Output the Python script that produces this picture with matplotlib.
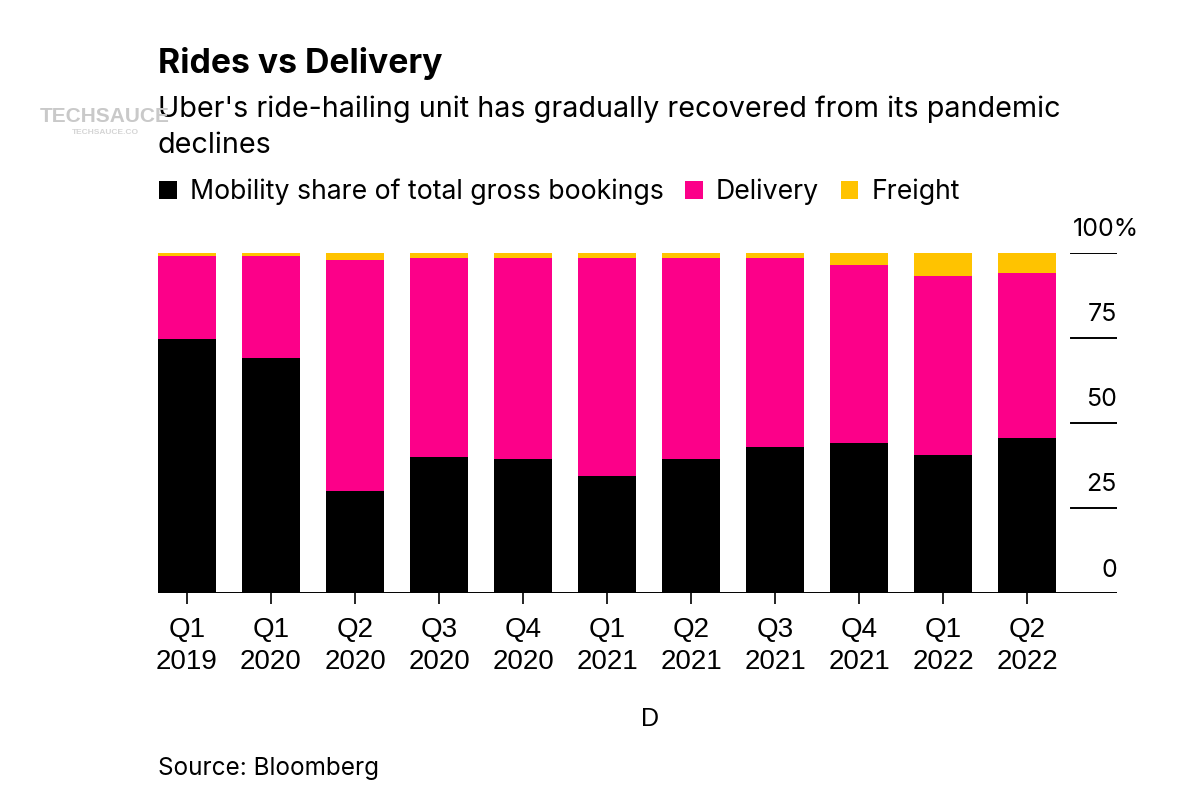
import numpy as np
import matplotlib
matplotlib.use("Agg")
import matplotlib.pyplot as plt

plt.rcParams['font.family'] = ['Liberation Sans', 'DejaVu Sans']
wide = ['Inter', 'Liberation Sans', 'DejaVu Sans']

# data (percent of total gross bookings)
quarters = ["Q1\n2019", "Q1\n2020", "Q2\n2020", "Q3\n2020", "Q4\n2020", "Q1\n2021",
            "Q2\n2021", "Q3\n2021", "Q4\n2021", "Q1\n2022", "Q2\n2022"]
mobility = [74.7, 69.1, 30.0, 40.1, 39.5, 34.5, 39.5, 42.9, 44.0, 40.6, 45.7]
delivery = [24.4, 30.0, 67.9, 58.4, 59.0, 64.0, 58.9, 55.5, 52.2, 52.6, 48.3]
freight = [0.9, 0.9, 2.1, 1.5, 1.5, 1.5, 1.6, 1.6, 3.8, 6.8, 6.0]
yticks = [0, 25, 50, 75, 100]
ylabels = ["0", "25", "50", "75", "100%"]

c_mob = "#000000"
c_del = "#fc0089"
c_fre = "#ffc300"

fig = plt.figure(figsize=(12, 8), dpi=100)
ax = fig.add_axes([158/1200, 1-593.3/800, (1117-158)/1200, (593.3-252.5)/800])

x = np.arange(len(quarters))
mob = np.array(mobility)
dlv = np.array(delivery)
fre = np.array(freight)
w = 0.69
b1 = ax.bar(x, mob, w, color=c_mob, label="Mobility share of total gross bookings")
b2 = ax.bar(x, dlv, w, bottom=mob, color=c_del, label="Delivery")
b3 = ax.bar(x, fre, w, bottom=mob+dlv, color=c_fre, label="Freight")

ax.set_xlim(-0.345, 11.07)
ax.set_ylim(0, 100)

for s in ax.spines.values():
    s.set_visible(False)
ax.axhline(0, color="black", lw=1.4, zorder=3)
ax.set_yticks([])
ax.set_xticks(x)
ax.set_xticklabels(quarters, fontsize=20, linespacing=1.3)
ax.tick_params(axis="x", length=8, width=1.2, direction="out", pad=9, colors="black")

# right side value labels with short rule lines
for v, lab in zip(yticks, ylabels):
    if v > 0:
        ax.axhline(v, xmin=0.952, xmax=1.0, color="black", lw=1.4)
    if lab.endswith("%"):
        ax.text((1073-158)/959, v + 4.9, lab, transform=ax.get_yaxis_transform(),
                ha="left", va="baseline", fontsize=18, family=wide, clip_on=False)
    else:
        ax.text(1.0, v + 4.9, lab, transform=ax.get_yaxis_transform(),
                ha="right", va="baseline", fontsize=18, family=wide, clip_on=False)

ax.set_xlabel("D", fontsize=18)
ax.xaxis.set_label_coords((649.6-158)/959, -0.335)

fig.text(158/1200, 1-73.3/800, "Rides vs Delivery", fontsize=24.3, fontweight="bold",
         family=wide, va="baseline", ha="left")
fig.text(158/1200, 1-116.7/800,
         "Uber's ride-hailing unit has gradually recovered from its pandemic",
         fontsize=20.7, family=wide, va="baseline", ha="left")
fig.text(158/1200, 1-153.3/800, "declines",
         fontsize=20.7, family=wide, va="baseline", ha="left")
fig.text(158/1200, 1-774.6/800, "Source: Bloomberg", fontsize=17.5, family=wide,
         va="baseline", ha="left")

# watermark
fig.text(105/1200, 1-122/800, "TECHSAUCE", fontsize=15, fontweight="bold",
         color="#c9c9c9", ha="center", va="baseline")
fig.text(105/1200, 1-134/800, "TECHSAUCE.CO", fontsize=6, fontweight="bold",
         color="#d5d5d5", ha="center", va="baseline")

fig.legend(handles=[b1, b2, b3], loc="center left", bbox_to_anchor=(159/1200, 1-192/800),
           ncol=3, frameon=False, prop={'family': wide, 'size': 19.2},
           handlelength=0.66, handleheight=0.66,
           handletextpad=0.5, columnspacing=0.8, borderpad=0, borderaxespad=0)

fig.savefig("out.png", dpi=100)
